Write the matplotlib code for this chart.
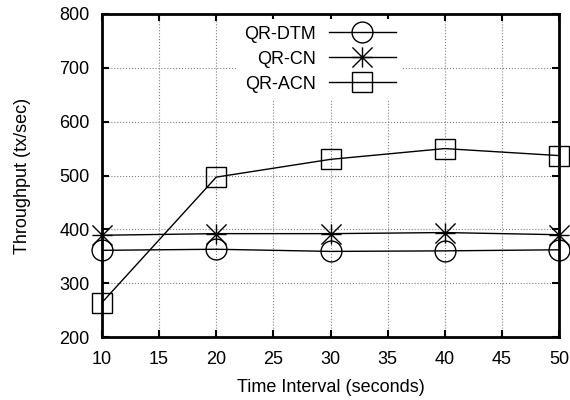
import matplotlib
matplotlib.use("Agg")
import matplotlib.pyplot as plt
from matplotlib.path import Path

x = [10, 20, 30, 40, 50]
dtm = [361, 363, 359, 360, 362]
cn = [389, 392, 392, 394, 390]
acn = [264, 497, 530, 550, 537]

plt.rcParams['font.family'] = ['Liberation Sans', 'DejaVu Sans']
fig = plt.figure(figsize=(5.7, 4.0), dpi=100)
ax = fig.add_axes([102/570, 1-337/400, (559-102)/570, (337-14)/400])

star = Path([(-1, -1), (1, 1), (-1, 1), (1, -1), (0, -1), (0, 1), (-1, 0), (1, 0)],
            [Path.MOVETO, Path.LINETO] * 4)

kw = dict(color='black', linewidth=1.0, markerfacecolor='none', markeredgecolor='black',
          markeredgewidth=1.0, clip_on=False)
ax.plot(x, dtm, marker='o', markersize=15, label='QR-DTM', **kw)
ax.plot(x, cn, marker=star, markersize=14.5, label='QR-CN', **kw)
ax.plot(x, acn, marker='s', markersize=14.5, label='QR-ACN', **kw)

ax.set_xlim(10, 50)
ax.set_ylim(200, 800)
ax.set_xticks(range(10, 51, 5))
ax.set_yticks(range(200, 801, 100))
ax.grid(True, linestyle=':', color='#808080', linewidth=0.8)
ax.tick_params(direction='in', top=True, right=True, length=5, width=1.5, labelsize=13)
ax.tick_params(axis='x', pad=10)
ax.tick_params(axis='y', pad=9)
for s in ax.spines.values():
    s.set_linewidth(2)
ax.set_xlabel('Time Interval (seconds)', fontsize=13, labelpad=8)
ax.set_ylabel('Throughput (tx/sec)', fontsize=13, labelpad=20)

leg = ax.legend(loc='upper left', bbox_to_anchor=(0.29, 0.995), markerfirst=False,
                frameon=True, fancybox=False, edgecolor='none', framealpha=1.0,
                fontsize=13, handlelength=3.7, labelspacing=0.45, borderaxespad=0.2,
                handletextpad=0.7, borderpad=0.35)
fig.savefig('out.png', dpi=100)
